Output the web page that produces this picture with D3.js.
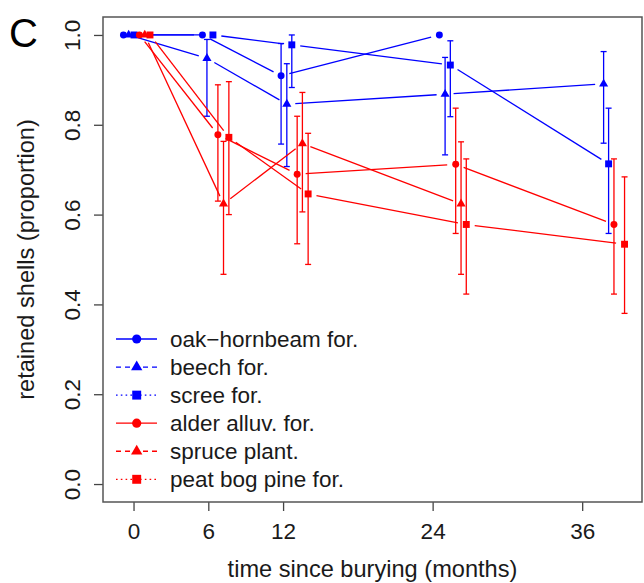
<!DOCTYPE html>
<html>
<head>
<meta charset="utf-8">
<script src="https://cdn.jsdelivr.net/npm/d3@7"></script>
<style>
  html, body { margin: 0; padding: 0; background: #fff; }
  svg { display: block; font-family: "Liberation Sans", Arial, Helvetica, sans-serif; }
</style>
</head>
<body>
<svg id="chart" width="644" height="583"></svg>
<script>
// Retained shells over time, six forest types.
// x = sampling time in months (each series slightly offset), y = proportion retained,
// lo/hi = error bar limits (null where no bar is drawn).

const seriesNames = ["oak\u2212hornbeam for.", "beech for.", "scree for.",
                     "alder alluv. for.", "spruce plant.", "peat bog pine for."];

const oakX  = [-0.81, 5.53, 11.84, 24.54];
const oakY  = [1.0, 1.0, 0.909, 1.0];
const oakLo = [null, null, 0.757, null];
const oakHi = [null, null, 0.981, null];

const beechX  = [-0.39, 5.89, 12.30, 25.00, 37.72];
const beechY  = [1.0, 0.948, 0.846, 0.868, 0.891];
const beechLo = [null, 0.819, 0.707, 0.733, 0.759];
const beechHi = [null, 0.990, 0.936, 0.950, 0.963];

const screeX  = [0.04, 6.37, 12.70, 25.42, 38.12];
const screeY  = [1.0, 1.0, 0.978, 0.933, 0.713];
const screeLo = [null, null, 0.883, 0.818, 0.558];
const screeHi = [null, null, 1.000, 0.987, 0.837];

const alderX  = [0.47, 6.77, 13.13, 25.85, 38.55];
const alderY  = [1.0, 0.778, 0.690, 0.712, 0.578];
const alderLo = [null, 0.630, 0.535, 0.558, 0.423];
const alderHi = [null, 0.889, 0.819, 0.837, 0.724];

const spruceX  = [0.90, 7.22, 13.55, 26.28];
const spruceY  = [1.0, 0.624, 0.758, 0.624];
const spruceLo = [null, 0.467, 0.606, 0.467];
const spruceHi = [null, 0.763, 0.872, 0.762];

const peatX  = [1.32, 7.65, 14.01, 26.70, 39.40];
const peatY  = [1.0, 0.772, 0.646, 0.578, 0.534];
const peatLo = [null, 0.600, 0.489, 0.423, 0.380];
const peatHi = [null, 0.896, 0.781, 0.724, 0.684];

const xTicks = [0, 6, 12, 24, 36];
const yTicks = [0.0, 0.2, 0.4, 0.6, 0.8, 1.0];
const panelLabel = "C";
const xTitle = "time since burying (months)";
const yTitle = "retained shells (proportion)";

// ---- styling ----
const BLUE = "#0000ff", RED = "#ff0000";
const colors  = [BLUE, BLUE, BLUE, RED, RED, RED];
const shapes  = [d3.symbolCircle, d3.symbolTriangle, d3.symbolSquare,
                 d3.symbolCircle, d3.symbolTriangle, d3.symbolSquare];
const plotSizes   = [38, 36, 48, 38, 36, 48];
const legendSizes = [66, 56, 80, 66, 56, 80];
const dashes  = [null, "5,4", "1.6,3.2", null, "5,4", "1.6,3.2"];

const series = [
  {x: oakX, y: oakY, lo: oakLo, hi: oakHi},
  {x: beechX, y: beechY, lo: beechLo, hi: beechHi},
  {x: screeX, y: screeY, lo: screeLo, hi: screeHi},
  {x: alderX, y: alderY, lo: alderLo, hi: alderHi},
  {x: spruceX, y: spruceY, lo: spruceLo, hi: spruceHi},
  {x: peatX, y: peatY, lo: peatLo, hi: peatHi}
];

const box = {left: 103, right: 642, top: 17, bottom: 502};
const x = d3.scaleLinear().domain([-2.45, 40.8]).range([box.left, box.right]);
const y = d3.scaleLinear().domain([-0.04, 1.04]).range([box.bottom, box.top]);

const svg = d3.select("#chart");
const textColor = "#1a1a1a";

// axes (ticks + labels); the frame is drawn as a separate rectangle
const yAxis = svg.append("g")
  .attr("transform", `translate(${box.left},0)`)
  .call(d3.axisLeft(y).tickValues(yTicks).tickSize(9).tickFormat(d3.format(".1f")));
yAxis.select(".domain").remove();
yAxis.selectAll(".tick line").attr("stroke", "#444").attr("stroke-width", 1.3);
yAxis.selectAll(".tick text")
  .attr("transform", "rotate(-90)")
  .attr("x", 0).attr("y", -23).attr("dy", null)
  .attr("text-anchor", "middle")
  .attr("fill", textColor)
  .style("font-size", "22.5px")
  .style("font-family", "'Liberation Sans', Arial, sans-serif");

const xAxis = svg.append("g")
  .attr("transform", `translate(0,${box.bottom})`)
  .call(d3.axisBottom(x).tickValues(xTicks).tickSize(9).tickFormat(d3.format("d")));
xAxis.select(".domain").remove();
xAxis.selectAll(".tick line").attr("stroke", "#444").attr("stroke-width", 1.3);
xAxis.selectAll(".tick text")
  .attr("y", 37).attr("dy", null)
  .attr("fill", textColor)
  .style("font-size", "22.5px")
  .style("font-family", "'Liberation Sans', Arial, sans-serif");

svg.append("rect")
  .attr("x", box.left).attr("y", box.top)
  .attr("width", box.right - box.left).attr("height", box.bottom - box.top)
  .attr("fill", "none").attr("stroke", "#555").attr("stroke-width", 1.5);

// titles
svg.append("text")
  .attr("x", (box.left + box.right) / 2).attr("y", 577)
  .attr("text-anchor", "middle").attr("fill", textColor)
  .style("font-size", "23.6px").text(xTitle);

svg.append("text")
  .attr("transform", `translate(34,${(box.top + box.bottom) / 2}) rotate(-90)`)
  .attr("text-anchor", "middle").attr("fill", textColor)
  .style("font-size", "23.6px").text(yTitle);

svg.append("text")
  .attr("x", 9).attr("y", 47)
  .attr("fill", "#000")
  .style("font-size", "40px").text(panelLabel);

// data: connecting segments with a gap around each point, error bars, markers
const gap = 8.5;
const cap = 3;
series.forEach((s, i) => {
  const g = svg.append("g");
  const pts = s.x.map((v, k) => [x(v), y(s.y[k])]);
  for (let k = 0; k < pts.length - 1; k++) {
    const [x0, y0] = pts[k], [x1, y1] = pts[k + 1];
    const dx = x1 - x0, dy = y1 - y0, len = Math.hypot(dx, dy);
    if (len <= 2 * gap) continue;
    const ux = dx / len, uy = dy / len;
    g.append("line")
      .attr("x1", x0 + ux * gap).attr("y1", y0 + uy * gap)
      .attr("x2", x1 - ux * gap).attr("y2", y1 - uy * gap)
      .attr("stroke", colors[i]).attr("stroke-width", 1.3);
  }
  s.x.forEach((v, k) => {
    if (s.lo[k] == null || s.hi[k] == null) return;
    const cx = x(v), ylo = y(s.lo[k]), yhi = y(s.hi[k]);
    g.append("line").attr("x1", cx).attr("x2", cx).attr("y1", ylo).attr("y2", yhi)
      .attr("stroke", colors[i]).attr("stroke-width", 1.3);
    [ylo, yhi].forEach(yy => g.append("line")
      .attr("x1", cx - cap).attr("x2", cx + cap).attr("y1", yy).attr("y2", yy)
      .attr("stroke", colors[i]).attr("stroke-width", 1.3));
  });
  const sym = d3.symbol().type(shapes[i]).size(plotSizes[i]);
  pts.forEach(([px, py]) => g.append("path")
    .attr("d", sym()).attr("transform", `translate(${px},${py})`)
    .attr("fill", colors[i]));
});

// legend
const legend = svg.append("g");
seriesNames.forEach((name, i) => {
  const ly = 339 + i * 28.06;
  legend.append("line")
    .attr("x1", 116).attr("x2", 157).attr("y1", ly).attr("y2", ly)
    .attr("stroke", colors[i]).attr("stroke-width", 1.3)
    .attr("stroke-dasharray", dashes[i]);
  legend.append("path")
    .attr("d", d3.symbol().type(shapes[i]).size(legendSizes[i])())
    .attr("transform", `translate(136.7,${ly})`)
    .attr("fill", colors[i]);
  legend.append("text")
    .attr("x", 170).attr("y", ly + 8)
    .attr("fill", textColor)
    .style("font-size", "22.5px").text(name);
});
</script>
</body>
</html>
